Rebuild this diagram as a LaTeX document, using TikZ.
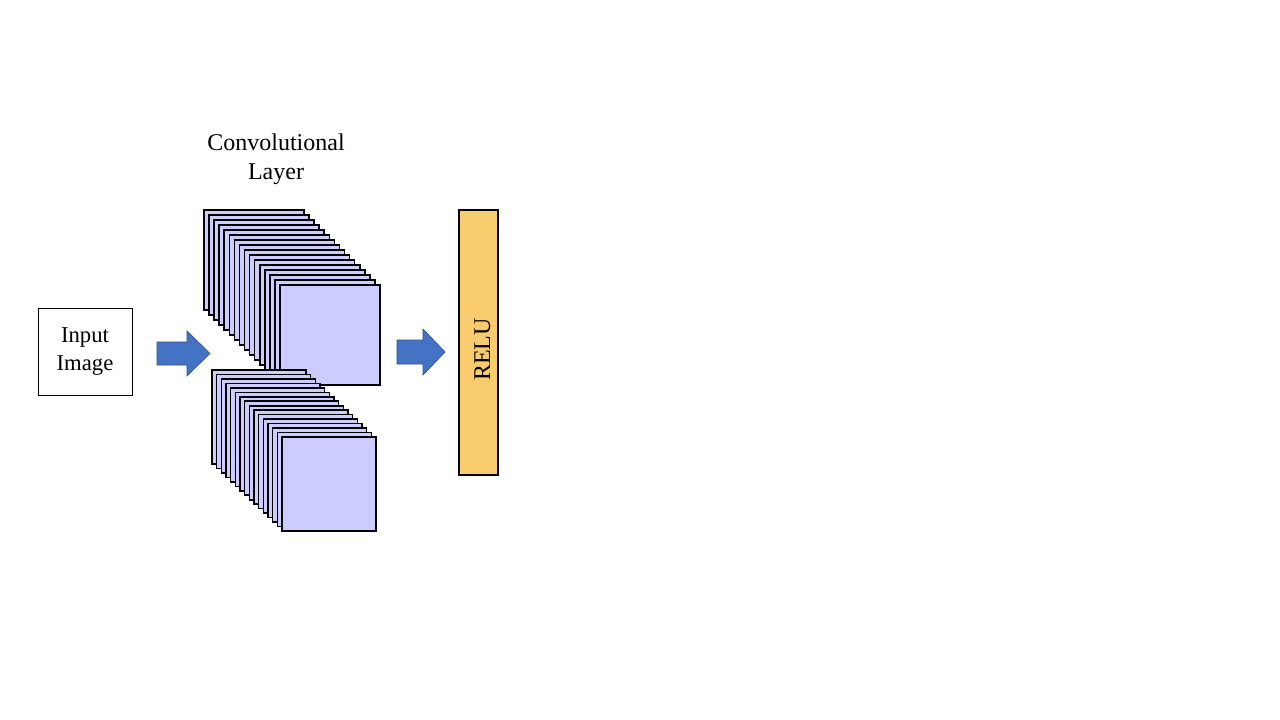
\documentclass[tikz,border=0pt]{standalone}
\usepackage{fontspec}
\setmainfont{Liberation Serif}
\definecolor{sqfill}{RGB}{204,204,255}
\definecolor{relufill}{RGB}{248,203,108}
\definecolor{arrowblue}{RGB}{68,114,196}
\definecolor{arrowedge}{RGB}{47,82,143}
\begin{document}
\begin{tikzpicture}[x=0.75pt,y=-0.75pt,
  sqbox/.style={draw=black,fill=sqfill,line width=1.2pt,inner sep=0pt,outer sep=0pt},
  blockarrow/.style={fill=arrowblue,draw=arrowedge,line width=0.5pt,line join=miter},
  lbl/.style={align=center,inner sep=0pt,font=\fontsize{18}{21.75}\selectfont}]
\useasboundingbox (0,0) rectangle (1280,720);
\fill[white] (0,0) rectangle (1280,720);

% input image
\node[draw=black,line width=0.7pt,minimum width=70.5pt,minimum height=65.25pt,
      align=center,inner sep=0pt,font=\fontsize{17}{21}\selectfont] (input) at (85,351.5) {Input\\Image};

% title
\node[lbl] (title) at (276,159) {Convolutional\\Layer};

% top stack
\foreach \i in {0,...,15}{
  \node[sqbox,minimum size=75pt,anchor=north west] (t\i) at ({204+\i*76/15},{210+\i*5}) {};
}
% bottom stack
\foreach \i in {0,...,15}{
  \node[sqbox,minimum size=70.5pt,anchor=north west] (b\i) at ({212+\i*70/15},{370+\i*67/15}) {};
}

% arrows
\fill[blockarrow] (157,342) -- (187,342) -- (187,331) -- (210,353.5) -- (187,376) -- (187,365) -- (157,365) -- cycle;
\fill[blockarrow] (397,340) -- (423,340) -- (423,329) -- (445,352) -- (423,375) -- (423,364) -- (397,364) -- cycle;

% relu
\node[draw=black,fill=relufill,line width=1.3pt,minimum width=29.25pt,minimum height=198.75pt,inner sep=0pt] (relu) at (478.5,342.5) {};
\node[rotate=90,inner sep=0pt,font=\fontsize{18}{20}\selectfont] (relutext) at (482.5,349.5) {RELU};
\end{tikzpicture}
\end{document}
